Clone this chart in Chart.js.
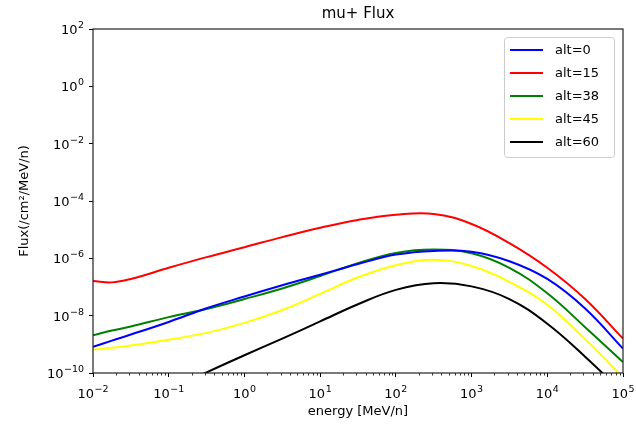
<!DOCTYPE html>
<html>
<head>
<meta charset="utf-8">
<script src="https://cdn.jsdelivr.net/npm/chart.js@4.4.1/dist/chart.umd.min.js"></script>
<style>
  html, body { margin: 0; padding: 0; background: #fff; }
  #wrap { width: 636px; height: 425px; }
</style>
</head>
<body>
<div id="wrap"><canvas id="flux"></canvas></div>
<script>
// energy grid [MeV/n], shared by all curves
var energies = [1e-2, 1.78e-2, 3.16e-2, 1e-1, 3.16e-1, 1, 3.16, 10, 31.6, 100, 316, 1000, 3160, 1e4, 3.16e4, 1e5];

// flux values (/cm2/MeV/n)
var alt0  = [8.13e-10, 1.35e-9, 2.19e-9, 6.03e-9, 1.82e-8, 4.68e-8, 1.15e-7, 2.69e-7, 6.31e-7, 1.35e-6, 1.82e-6, 1.70e-6, 7.94e-7, 1.91e-7, 1.78e-8, 7.08e-10];
var alt15 = [1.62e-7, 1.45e-7, 1.91e-7, 4.68e-7, 1.10e-6, 2.45e-6, 5.50e-6, 1.17e-5, 2.19e-5, 3.31e-5, 3.55e-5, 1.58e-5, 3.39e-6, 4.68e-7, 3.80e-8, 1.58e-9];
var alt38 = [2.09e-9, 3.02e-9, 4.17e-9, 8.91e-9, 1.70e-8, 3.80e-8, 8.91e-8, 2.40e-7, 6.76e-7, 1.55e-6, 2.04e-6, 1.51e-6, 4.68e-7, 6.03e-8, 3.98e-9, 2.40e-10];
var alt45 = [6.61e-10, 7.59e-10, 9.12e-10, 1.45e-9, 2.51e-9, 5.62e-9, 1.58e-8, 5.75e-8, 2.19e-7, 5.75e-7, 8.91e-7, 5.37e-7, 1.51e-7, 2.40e-8, 1.51e-9, 7.08e-11];
var alt60 = [null, null, null, 2.51e-11, 1.05e-10, 4.17e-10, 1.58e-9, 6.31e-9, 2.51e-8, 7.94e-8, 1.35e-7, 1.05e-7, 3.80e-8, 5.25e-9, 3.72e-10, 2.00e-11];

var seriesLabels = ['alt=0', 'alt=15', 'alt=38', 'alt=45', 'alt=60'];
var seriesColors = ['#0000ff', '#ff0000', '#008000', '#ffff00', '#000000'];
var seriesValues = [alt0, alt15, alt38, alt45, alt60];

var xTicks = [1e-2, 1e-1, 1, 10, 100, 1000, 1e4, 1e5];
var yTicks = [1e-10, 1e-8, 1e-6, 1e-4, 1e-2, 1, 1e2];

var FONT = 'DejaVu Sans';

function toPoints(vals) {
    var pts = [];
    for (var i = 0; i < energies.length; i++) {
        pts.push({x: energies[i], y: vals[i]});
    }
    return pts;
}

var datasets = [];
for (var k = 0; k < seriesLabels.length; k++) {
    datasets.push({
        label: seriesLabels[k],
        data: toPoints(seriesValues[k]),
        borderColor: seriesColors[k],
        backgroundColor: seriesColors[k],
        borderWidth: 2,
        pointRadius: 0,
        tension: 0.4,
        fill: false
    });
}

// "10" with a raised exponent, like matplotlib's mathtext tick labels
function drawPow(ctx, v, x, y, align) {
    var e = Math.round(Math.log10(v));
    var expText = (e < 0 ? '\u2212' : '') + Math.abs(e);
    ctx.font = '13px "' + FONT + '"';
    var wb = ctx.measureText('10').width;
    ctx.font = '9.5px "' + FONT + '"';
    var we = ctx.measureText(expText).width;
    var w = wb + we + 0.5;
    var x0 = align === 'right' ? x - w : x - w / 2;
    ctx.textAlign = 'left';
    ctx.textBaseline = 'alphabetic';
    ctx.font = '13px "' + FONT + '"';
    ctx.fillText('10', x0, y);
    ctx.font = '9.5px "' + FONT + '"';
    ctx.fillText(expText, x0 + wb + 0.5, y - 6);
}

// frame, minor ticks, tick labels, title and legend drawn on top of the plot
var decorPlugin = {
    id: 'decor',
    afterDraw: function (chart) {
        var ctx = chart.ctx;
        var a = chart.chartArea;
        var xs = chart.scales.x;
        var ys = chart.scales.y;
        ctx.save();
        // x minor ticks
        ctx.strokeStyle = '#000';
        ctx.lineWidth = 0.8;
        ctx.beginPath();
        for (var d = -2; d < 5; d++) {
            for (var m = 2; m <= 9; m++) {
                var px = Math.round(xs.getPixelForValue(m * Math.pow(10, d))) + 0.5;
                ctx.moveTo(px, a.bottom);
                ctx.lineTo(px, a.bottom + 2.5);
            }
        }
        ctx.stroke();
        // frame
        ctx.lineWidth = 1.2;
        ctx.strokeStyle = '#222';
        ctx.strokeRect(a.left, a.top, a.right - a.left, a.bottom - a.top);
        // tick labels
        ctx.fillStyle = '#000';
        xTicks.forEach(function (v) {
            drawPow(ctx, v, xs.getPixelForValue(v), a.bottom + 24.5, 'center');
        });
        yTicks.forEach(function (v) {
            drawPow(ctx, v, a.left - 9, ys.getPixelForValue(v) + 5, 'right');
        });
        // title
        ctx.font = '15px "' + FONT + '"';
        ctx.textAlign = 'center';
        ctx.textBaseline = 'middle';
        ctx.fillText('mu+ Flux', (a.left + a.right) / 2, 14);
        // legend box
        var bx = 504, by = 37, bw = 110, bh = 120;
        ctx.fillStyle = 'rgba(255,255,255,0.8)';
        ctx.strokeStyle = '#cccccc';
        ctx.lineWidth = 1;
        ctx.beginPath();
        ctx.roundRect(bx + 0.5, by + 0.5, bw, bh, 3);
        ctx.fill();
        ctx.stroke();
        ctx.font = '13px "' + FONT + '"';
        ctx.textAlign = 'left';
        ctx.textBaseline = 'middle';
        chart.data.datasets.forEach(function (ds, i) {
            var y = by + 13 + i * 23;
            ctx.strokeStyle = ds.borderColor;
            ctx.lineWidth = 2;
            ctx.beginPath();
            ctx.moveTo(bx + 6, y);
            ctx.lineTo(bx + 39, y);
            ctx.stroke();
            ctx.fillStyle = '#000';
            ctx.fillText(ds.label, bx + 51, y + 1);
        });
        ctx.restore();
    }
};

var ctx = document.getElementById('flux');
var fluxChart = new Chart(ctx, {
    type: 'line',
    data: { datasets: datasets },
    options: {
        responsive: true,
        maintainAspectRatio: false,
        animation: false,
        events: [],
        layout: { padding: { top: 29, right: 13, left: 0, bottom: 0 } },
        plugins: {
            legend: { display: false },
            title: { display: false },
            tooltip: { enabled: false }
        },
        scales: {
            x: {
                type: 'logarithmic',
                min: 1e-2,
                max: 1e5,
                afterBuildTicks: function (scale) {
                    scale.ticks = xTicks.map(function (v) { return {value: v}; });
                },
                afterFit: function (scale) { scale.height = 52; },
                ticks: { display: false, autoSkip: false, maxRotation: 0 },
                grid: { drawOnChartArea: false, tickLength: 4, color: '#000', lineWidth: 1 },
                border: { display: false },
                title: {
                    display: true,
                    text: 'energy [MeV/n]',
                    color: '#000',
                    font: { family: FONT, size: 13 },
                    padding: { top: 0, bottom: 6 }
                }
            },
            y: {
                type: 'logarithmic',
                min: 1e-10,
                max: 1e2,
                afterBuildTicks: function (scale) {
                    scale.ticks = yTicks.map(function (v) { return {value: v}; });
                },
                afterFit: function (scale) { scale.width = 93; },
                ticks: { display: false, autoSkip: false },
                grid: { drawOnChartArea: false, tickLength: 4, color: '#000', lineWidth: 1 },
                border: { display: false },
                title: {
                    display: true,
                    text: 'Flux(/cm\u00B2/MeV/n)',
                    color: '#000',
                    font: { family: FONT, size: 13 },
                    padding: { top: 17, bottom: 0 }
                }
            }
        }
    },
    plugins: [decorPlugin]
});
</script>
</body>
</html>
